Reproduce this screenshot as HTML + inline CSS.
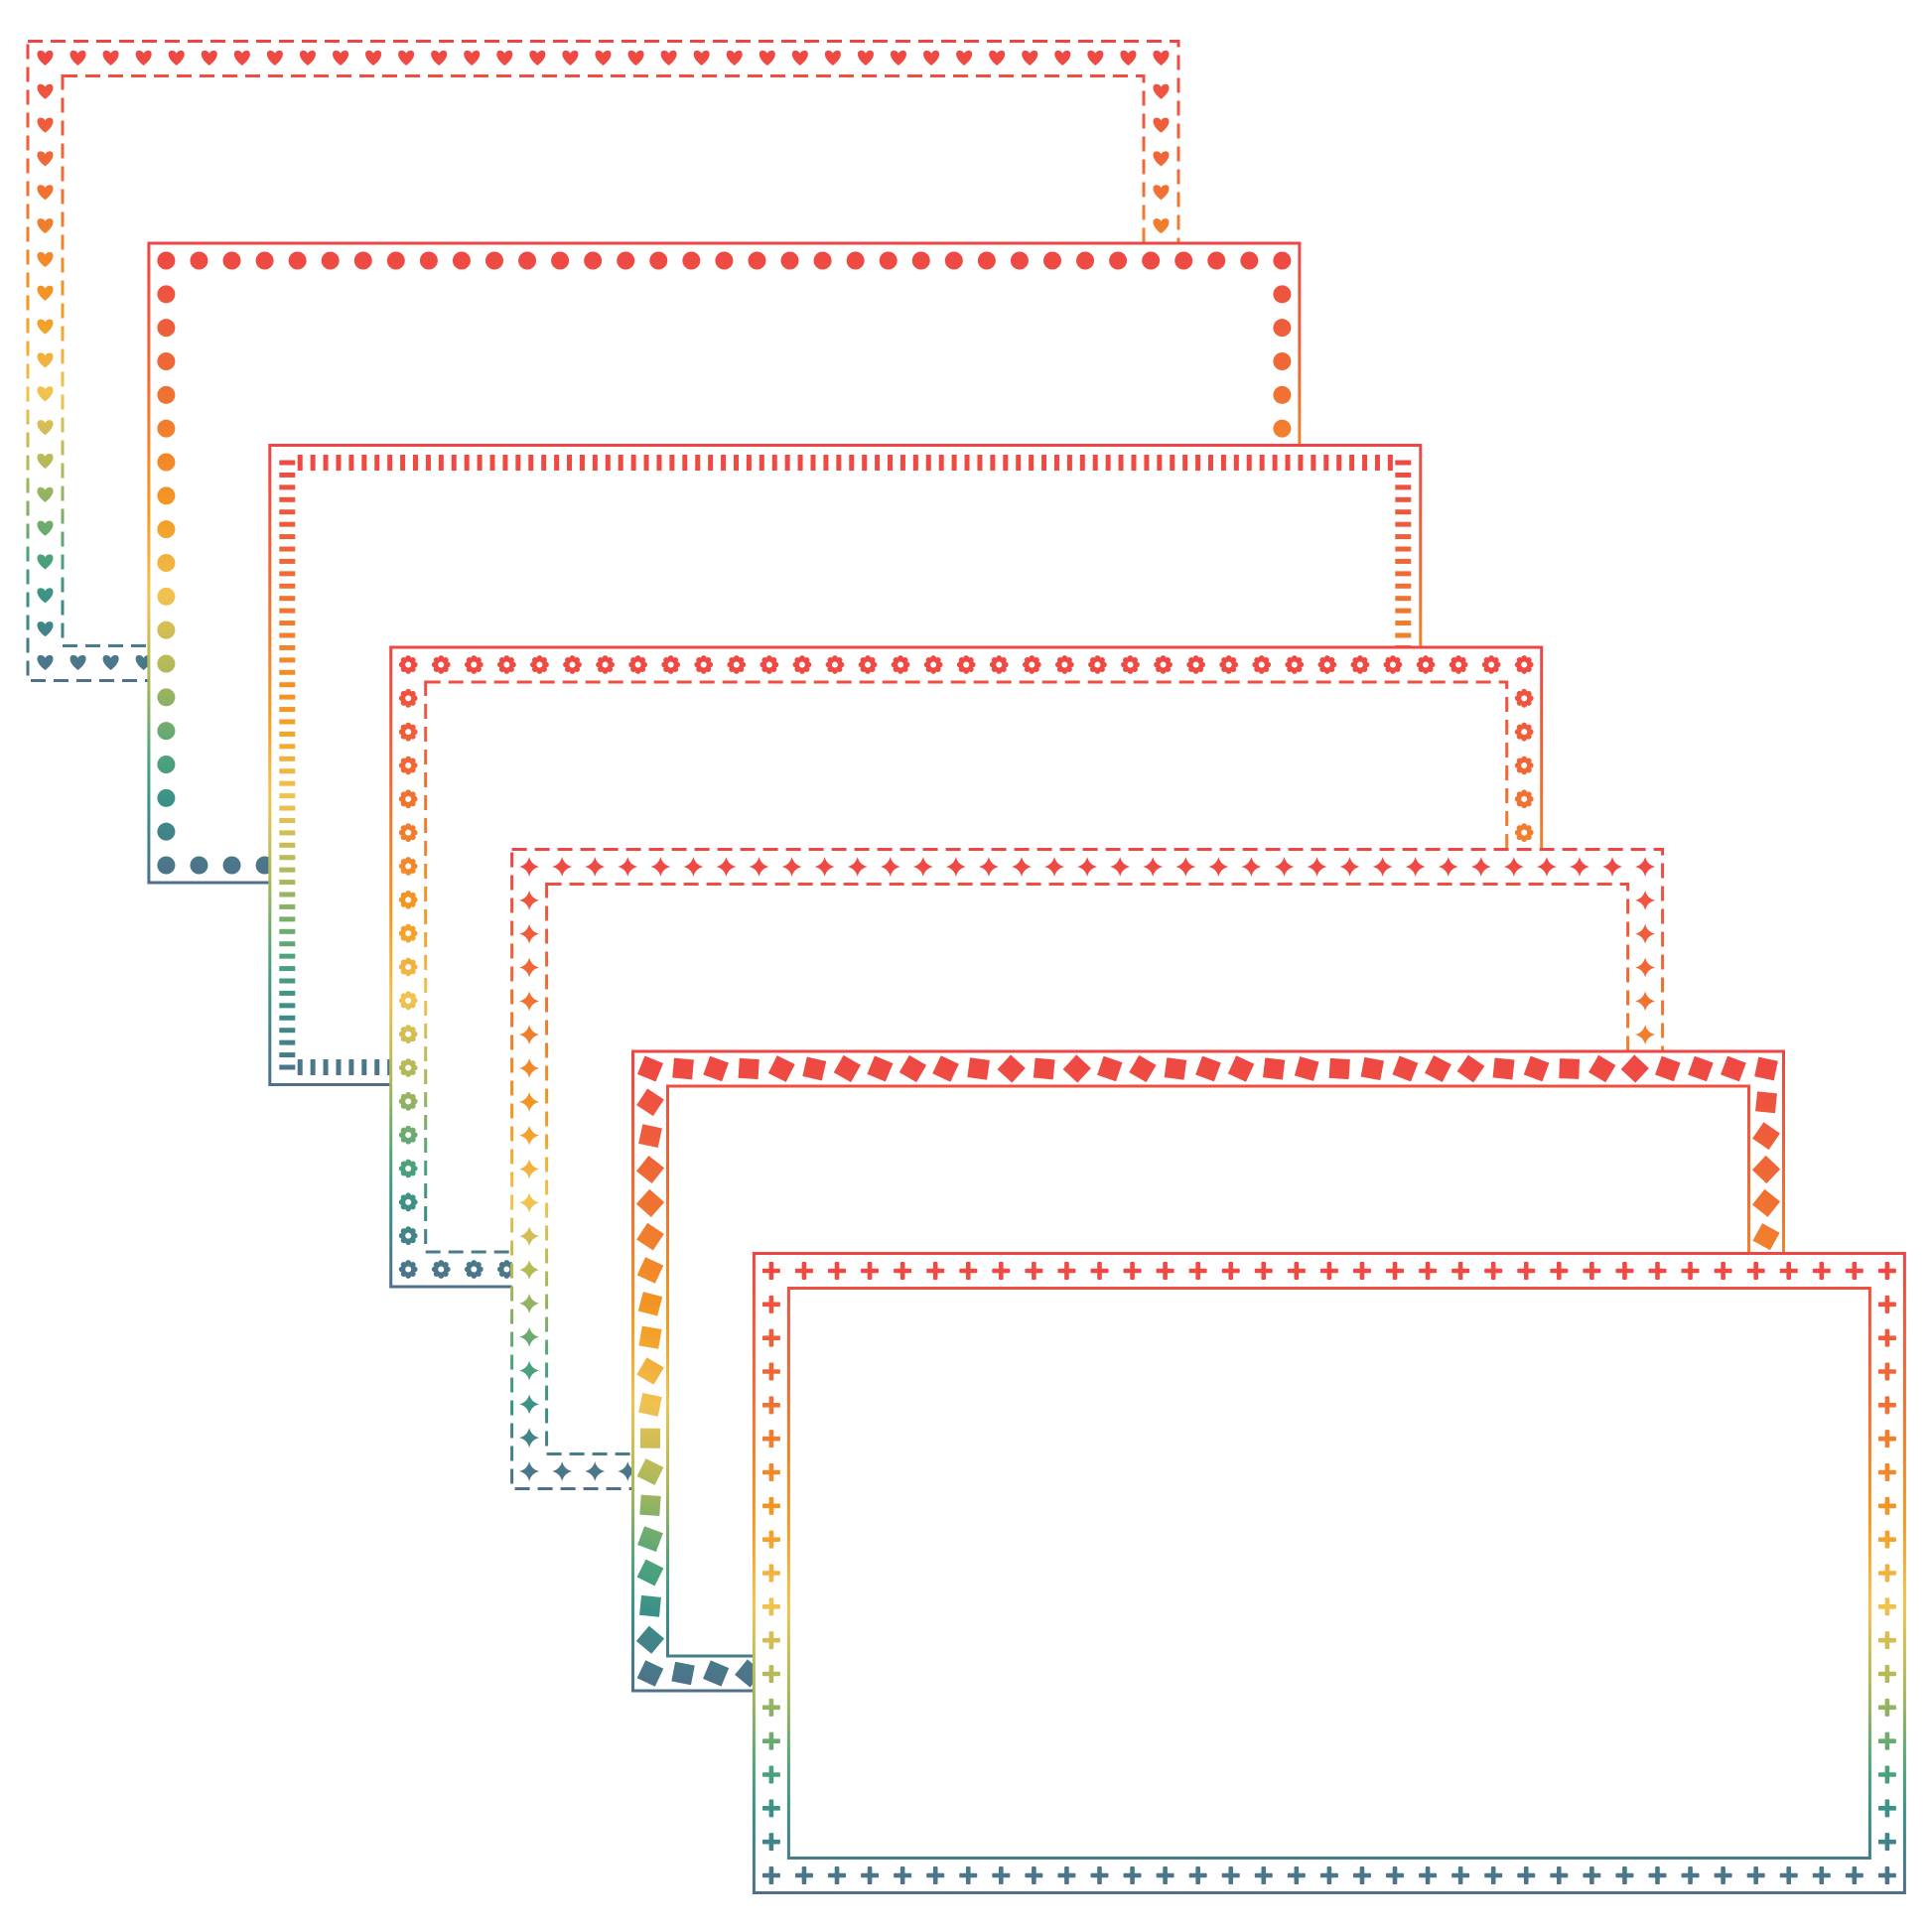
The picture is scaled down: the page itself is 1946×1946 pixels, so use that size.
<!DOCTYPE html>
<html><head><meta charset="utf-8"><style>html,body{margin:0;padding:0;background:#fff;}svg{display:block}</style></head>
<body>
<svg id="s" xmlns="http://www.w3.org/2000/svg" width="1946" height="1946" viewBox="0 0 1946 1946"></svg>
<script>
const s=document.getElementById('s');
const W=1159,H=644,DX=121.9,DY=203.5,X0=28,Y0=41.5;
let out='<defs>';
for(let i=0;i<7;i++){
  const T=Y0+i*DY;
  out+=`<linearGradient id="g${i}" gradientUnits="userSpaceOnUse" x1="0" y1="${T}" x2="0" y2="${T+H}">
  <stop offset="0" stop-color="#ee4545"/><stop offset="0.2" stop-color="#ef6a35"/><stop offset="0.42" stop-color="#f39a22"/>
  <stop offset="0.55" stop-color="#f2c250"/><stop offset="0.68" stop-color="#a9b85a"/><stop offset="0.8" stop-color="#4fa47a"/>
  <stop offset="0.88" stop-color="#3a8f88"/><stop offset="1" stop-color="#506f8a"/></linearGradient>`;
}
out+='</defs>';
let seed=7;function rnd(){seed=(seed*9301+49297)%233280;return seed/233280;}
function icon(type,x,y,g,horiz){
  const f=`fill="url(#${g})"`;
  switch(type){
    case 'heart': return `<path ${f} d="M${x} ${y+7} C${x-11} ${y-1} ${x-9} ${y-9} ${x-4} ${y-8} C${x-2} ${y-8} ${x} ${y-6} ${x} ${y-5} C${x} ${y-6} ${x+2} ${y-8} ${x+4} ${y-8} C${x+9} ${y-9} ${x+11} ${y-1} ${x} ${y+7}Z"/>`;
    case 'dot': return `<circle ${f} cx="${x}" cy="${y}" r="9"/>`;
    case 'tick': return horiz?`<rect ${f} x="${x-2.5}" y="${y-8}" width="5" height="16"/>`:`<rect ${f} x="${x-8}" y="${y-2.5}" width="16" height="5"/>`;
    case 'gear': {let p='';for(let k=0;k<8;k++){const a=k*Math.PI/4;p+=`<circle cx="${x+6.5*Math.cos(a)}" cy="${y+6.5*Math.sin(a)}" r="2.9"/>`;}
      return `<g ${f}>${p}<circle cx="${x}" cy="${y}" r="6.5"/></g><circle fill="#fff" cx="${x}" cy="${y}" r="3"/>`;}
    case 'star': return `<path ${f} d="M${x} ${y-10} Q${x+2} ${y-2} ${x+10} ${y} Q${x+2} ${y+2} ${x} ${y+10} Q${x-2} ${y+2} ${x-10} ${y} Q${x-2} ${y-2} ${x} ${y-10}Z"/>`;
    case 'sq': {const a=rnd()*45;return `<rect ${f} x="${x-10}" y="${y-10}" width="20" height="20" transform="rotate(${a.toFixed(1)} ${x} ${y})"/>`;}
    case 'plus': return `<g ${f}><rect x="${x-9}" y="${y-2.3}" width="18" height="4.6" rx="1"/><rect x="${x-2.3}" y="${y-9}" width="4.6" height="18" rx="1"/></g>`;
  }
}
const frames=[
 {t:'heart',outer:'dash',inner:'dash'},
 {t:'dot',outer:'solid',inner:null},
 {t:'tick',outer:'solid',inner:null},
 {t:'gear',outer:'solid',inner:'dash'},
 {t:'star',outer:'dash',inner:'dash'},
 {t:'sq',outer:'solid',inner:'solid'},
 {t:'plus',outer:'solid',inner:'solid'}];
frames.forEach((fr,i)=>{
  const L=X0+i*DX,T=Y0+i*DY,g='g'+i;
  let o=`<g><rect x="${L}" y="${T}" width="${W}" height="${H}" fill="#fff"/>`;
  const da=fr.outer=='dash'?'stroke-dasharray="15 8"':'';
  o+=`<rect x="${L}" y="${T}" width="${W}" height="${H}" fill="none" stroke="url(#${g})" stroke-width="3" ${da}/>`;
  if(fr.inner){const d2=fr.inner=='dash'?'stroke-dasharray="15 8"':'';
    o+=`<rect x="${L+35}" y="${T+35}" width="${W-70}" height="${H-70}" fill="none" stroke="url(#${g})" stroke-width="3" ${d2}/>`;}
  const ins=17.5;
  let nh=34,nv=18;
  if(fr.t=='tick'){nh=87;nv=49;}
  const x1=L+ins,x2=L+W-ins,y1=T+ins,y2=T+H-ins;
  for(let k=0;k<=nh;k++){const x=x1+(x2-x1)*k/nh;
    const cornerT=(k==0||k==nh)&&fr.t=='tick';
    o+=icon(fr.t,x,y1,g,!cornerT);o+=icon(fr.t,x,y2,g,!cornerT);}
  for(let k=1;k<nv;k++){const y=y1+(y2-y1)*k/nv;o+=icon(fr.t,x1,y,g,false);o+=icon(fr.t,x2,y,g,false);}
  o+='</g>';out+=o;
});
s.innerHTML=out;
</script>
</body></html>
